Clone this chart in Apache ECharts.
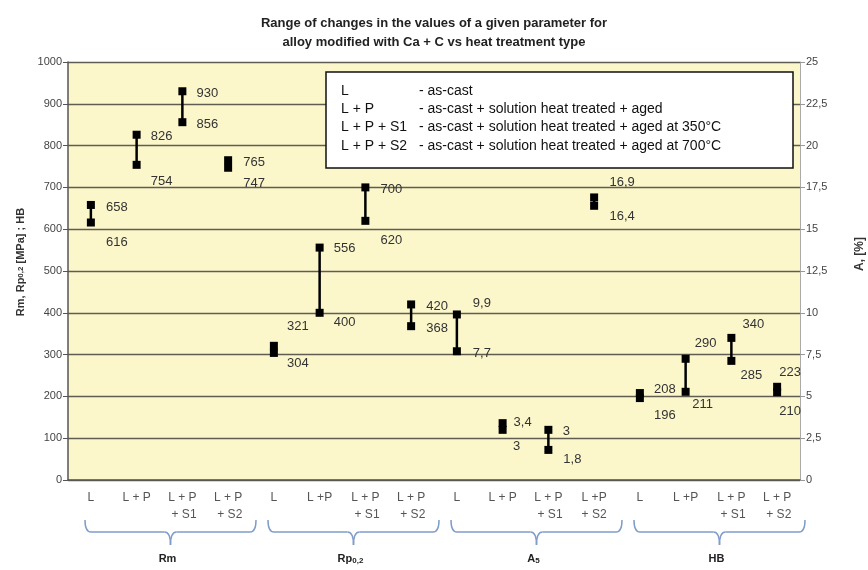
<!DOCTYPE html>
<html>
<head>
<meta charset="utf-8">
<script src="https://cdn.jsdelivr.net/npm/echarts@6/dist/echarts.min.js"></script>
<style>
html, body { margin: 0; padding: 0; background: #fff; }
#chart_container { width: 868px; height: 570px; }
</style>
</head>
<body>
<div id="chart_container"></div>
<script>
// categories along the x axis, four per parameter group
var categories = [
    'L', 'L + P', 'L + P\n+ S1', 'L + P\n+ S2',
    'L', 'L +P', 'L + P\n+ S1', 'L + P\n+ S2',
    'L', 'L + P', 'L + P\n+ S1', 'L +P\n+ S2',
    'L', 'L +P', 'L + P\n+ S1', 'L + P\n+ S2'
];
var groupNames = ['Rm', 'Rp{s|0,2}', 'A{s|5}', 'HB'];

// ranges, low / high per treatment (L, L+P, L+P+S1, L+P+S2)
var rmLow = [616, 754, 856, 747];
var rmHigh = [658, 826, 930, 765];
var rpLow = [304, 400, 620, 368];
var rpHigh = [321, 556, 700, 420];
var a5Low = [7.7, 3, 1.8, 16.4];     // right axis, %
var a5High = [9.9, 3.4, 3, 16.9];
var hbLow = [196, 211, 285, 210];
var hbHigh = [208, 290, 340, 223];

var leftTicks = { min: 0, max: 1000, interval: 100 };
var rightTicks = { min: 0, max: 25, interval: 2.5 };

var legendKeys = ['L', 'L + P', 'L + P + S1', 'L + P + S2'];
var legendTexts = [
    '- as-cast',
    '- as-cast + solution heat treated + aged',
    '- as-cast + solution heat treated + aged at 350\u00B0C',
    '- as-cast + solution heat treated + aged at 700\u00B0C'
];

// where each value label sits relative to its marker: [high], [low]
var labelOffsets = [
    [[26, 2], [26, 20]], [[25, 2], [25, 17]], [[25, 2], [25, 2]], [[26, 2], [26, 16]],
    [[24, -19], [24, 10]], [[25, 1], [25, 10]], [[26, 2], [26, 20]], [[26, 2], [26, 2]],
    [[25, -11], [25, 2]], [[20, -1], [14, 17]], [[18, 2], [24, 10]], [[28, -15], [28, 11]],
    [[25, -4], [25, 17]], [[20, -15], [17, 13]], [[22, -13], [20, 15]], [[13, -14], [13, 19]]
];

function buildRanges(groupIndex, low, high) {
    var out = [];
    for (var i = 0; i < low.length; i++) {
        out.push([groupIndex * 4 + i, low[i], high[i]]);
    }
    return out;
}

var leftData = buildRanges(0, rmLow, rmHigh)
    .concat(buildRanges(1, rpLow, rpHigh))
    .concat(buildRanges(3, hbLow, hbHigh));
var rightData = buildRanges(2, a5Low, a5High);

var FONT = 'Liberation Sans, Arial, sans-serif';

function fmt(v) {
    return String(v).replace('.', ',');
}

function renderRange(params, api) {
    var idx = api.value(0);
    var lo = api.value(1);
    var hi = api.value(2);
    var pLo = api.coord([idx, lo]);
    var pHi = api.coord([idx, hi]);
    var off = labelOffsets[idx];
    var txt = { fill: '#333', fontSize: 13, fontFamily: FONT, align: 'center', verticalAlign: 'middle' };
    return {
        type: 'group',
        children: [
            { type: 'line', shape: { x1: pLo[0], y1: pLo[1], x2: pHi[0], y2: pHi[1] }, style: { stroke: '#000', lineWidth: 2.5 } },
            { type: 'rect', shape: { x: pHi[0] - 4, y: pHi[1] - 4, width: 8, height: 8 }, style: { fill: '#000' } },
            { type: 'rect', shape: { x: pLo[0] - 4, y: pLo[1] - 4, width: 8, height: 8 }, style: { fill: '#000' } },
            { type: 'text', x: pHi[0] + off[0][0], y: pHi[1] + off[0][1], style: Object.assign({ text: fmt(hi) }, txt) },
            { type: 'text', x: pLo[0] + off[1][0], y: pLo[1] + off[1][1], style: Object.assign({ text: fmt(lo) }, txt) }
        ]
    };
}

var dom = document.getElementById('chart_container');
var myChart = echarts.init(dom);
var option = null;

option = {
    animation: false,
    title: {
        text: 'Range of changes in the values of a given parameter for\nalloy modified with Ca + C vs heat treatment type',
        left: 'center',
        top: 9,
        textStyle: { fontSize: 13, fontWeight: 'bold', color: '#222', lineHeight: 19, fontFamily: FONT }
    },
    grid: {
        left: 68,
        right: 68,
        top: 62,
        bottom: 90,
        containLabel: false,
        outerBoundsMode: 'none',
        show: true,
        backgroundColor: '#FBF7CB',
        borderWidth: 0
    },
    xAxis: {
        type: 'category',
        data: categories,
        axisLine: { lineStyle: { color: '#555', width: 1.5 } },
        axisTick: { length: 5, lineStyle: { color: '#555' } },
        axisLabel: {
            interval: 0,
            margin: 9,
            color: '#555',
            fontSize: 12,
            fontFamily: FONT,
            lineHeight: 17,
            formatter: function (value) {
                var parts = value.split('\n');
                if (parts.length === 1) return value;
                return '{r|' + parts[0] + '}\n{r|' + parts[1] + '}';
            },
            rich: {
                r: { align: 'right', color: '#555', fontSize: 12, fontFamily: FONT, lineHeight: 17 }
            }
        }
    },
    yAxis: [
        {
            type: 'value',
            min: leftTicks.min,
            max: leftTicks.max,
            interval: leftTicks.interval,
            name: 'Rm, Rp{s|0,2} [MPa] ; HB',
            nameLocation: 'middle',
            nameRotate: 90,
            nameGap: 42,
            nameTextStyle: {
                fontSize: 11,
                fontWeight: 'bold',
                color: '#333',
                fontFamily: FONT,
                padding: [0, 0, 0, 18],
                rich: { s: { fontSize: 8, fontWeight: 'bold', color: '#333', fontFamily: FONT } }
            },
            axisLine: { show: true, lineStyle: { color: '#555', width: 1.5 } },
            axisTick: { show: true, length: 5, lineStyle: { color: '#555' } },
            axisLabel: {
                color: '#444', fontSize: 11, fontFamily: FONT, margin: 6,
                formatter: function (v) { return String(v); }
            },
            splitLine: { show: true, lineStyle: { color: '#5f5d52', width: 1.3 } }
        },
        {
            type: 'value',
            position: 'right',
            min: rightTicks.min,
            max: rightTicks.max,
            interval: rightTicks.interval,
            name: 'A, [%]',
            nameLocation: 'middle',
            nameRotate: 90,
            nameGap: 54,
            nameTextStyle: {
                fontSize: 12,
                fontWeight: 'bold',
                color: '#333',
                fontFamily: FONT,
                padding: [0, 0, 0, 34]
            },
            axisLine: { show: true, lineStyle: { color: '#aaa', width: 1 } },
            axisTick: { show: true, length: 5, lineStyle: { color: '#999' } },
            axisLabel: {
                color: '#444', fontSize: 11, fontFamily: FONT, margin: 6,
                formatter: function (v) { return fmt(v); }
            },
            splitLine: { show: false }
        }
    ],
    series: [
        {
            name: 'Rm, Rp0,2, HB',
            type: 'custom',
            yAxisIndex: 0,
            renderItem: renderRange,
            encode: { x: 0, y: [1, 2] },
            data: leftData,
            z: 5
        },
        {
            name: 'A5',
            type: 'custom',
            yAxisIndex: 1,
            renderItem: renderRange,
            encode: { x: 0, y: [1, 2] },
            data: rightData,
            z: 5
        }
    ]
};

if (option && typeof option === "object") {
    myChart.setOption(option, true);
}

/* legend box and group braces */
var graphics = [];
var legendChildren = [
    { type: 'rect', shape: { x: 0, y: 0, width: 467, height: 96 }, style: { fill: '#fff', stroke: '#111', lineWidth: 1.5 } }
];
for (var k = 0; k < legendKeys.length; k++) {
    legendChildren.push({ type: 'text', x: 15, y: 19 + k * 18.3, style: { text: legendKeys[k], fill: '#111', fontSize: 14, fontFamily: FONT, verticalAlign: 'middle' } });
    legendChildren.push({ type: 'text', x: 93, y: 19 + k * 18.3, style: { text: legendTexts[k], fill: '#111', fontSize: 14, fontFamily: FONT, verticalAlign: 'middle' } });
}
graphics.push({ type: 'group', x: 326, y: 72, z: 20, children: legendChildren });

var c0 = myChart.convertToPixel({ xAxisIndex: 0 }, 0);
var c1 = myChart.convertToPixel({ xAxisIndex: 0 }, 1);
var band = c1 - c0;
var braceStyle = { fill: null, stroke: '#7f9ccb', lineWidth: 1.5 };
for (var g = 0; g < groupNames.length; g++) {
    var gStart = c0 - band / 2 + g * 4 * band;
    var gEnd = gStart + 4 * band;
    var x1 = gStart + 17, x2 = gEnd + 5, cx = (x1 + x2) / 2;
    var y0 = 520, y1 = 532, y2 = 545, r = 6;
    graphics.push({
        type: 'group',
        children: [
            { type: 'bezierCurve', shape: { x1: x1, y1: y0, cpx1: x1, cpy1: y1, x2: x1 + r, y2: y1 }, style: braceStyle },
            { type: 'line', shape: { x1: x1 + r, y1: y1, x2: cx - r, y2: y1 }, style: braceStyle },
            { type: 'bezierCurve', shape: { x1: cx - r, y1: y1, cpx1: cx, cpy1: y1, x2: cx, y2: y2 }, style: braceStyle },
            { type: 'bezierCurve', shape: { x1: cx + r, y1: y1, cpx1: cx, cpy1: y1, x2: cx, y2: y2 }, style: braceStyle },
            { type: 'line', shape: { x1: cx + r, y1: y1, x2: x2 - r, y2: y1 }, style: braceStyle },
            { type: 'bezierCurve', shape: { x1: x2 - r, y1: y1, cpx1: x2, cpy1: y1, x2: x2, y2: y0 }, style: braceStyle }
        ]
    });
    graphics.push({
        type: 'text', x: cx - 3, y: 559,
        style: {
            text: groupNames[g], fill: '#222', fontSize: 11, fontWeight: 'bold', fontFamily: FONT,
            align: 'center', verticalAlign: 'middle',
            rich: { s: { fontSize: 8, fontWeight: 'bold', fill: '#222', fontFamily: FONT, padding: [4, 0, 0, 0] } }
        }
    });
}
myChart.setOption({ graphic: graphics });
</script>
</body>
</html>
